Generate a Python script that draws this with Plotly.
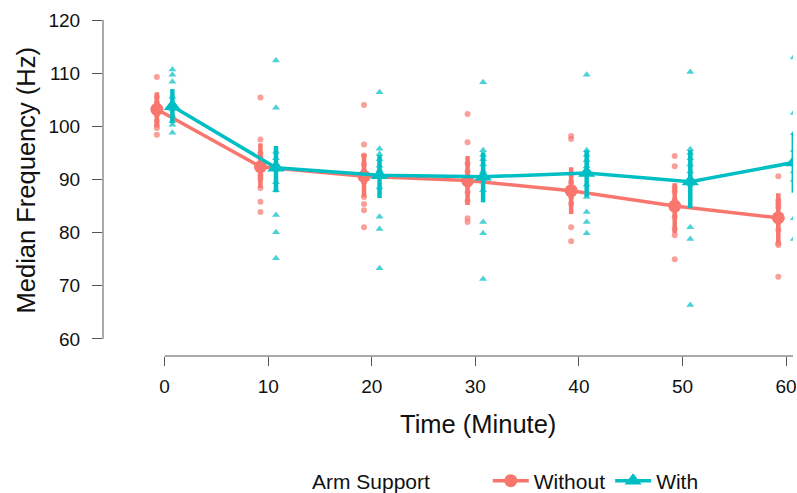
import plotly.graph_objects as go

# ---------------- data ----------------
times = [0, 10, 20, 30, 40, 50, 60]
groups = ["Without", "With"]

without_mean = [103.2, 92.4, 90.6, 89.8, 87.9, 85.0, 82.8]
without_lo = [100.0, 88.4, 86.7, 85.2, 83.5, 79.9, 78.0]
without_hi = [106.4, 96.8, 94.8, 94.4, 92.3, 89.3, 87.4]

with_mean = [103.8, 92.2, 90.8, 90.5, 91.2, 89.6, 93.2]
with_lo = [100.6, 87.6, 86.5, 85.7, 86.7, 84.6, 87.5]
with_hi = [107.0, 96.3, 94.6, 95.1, 95.5, 95.5, 98.8]

without_raw = {
    0: [109.3, 105.5, 104.5, 103.6, 102.9, 102.2, 101.0, 100.2, 99.7, 98.4],
    10: [105.4, 97.5, 95.0, 94.2, 92.6, 91.8, 90.8, 90.2, 88.4, 85.8, 83.9],
    20: [104.0, 96.6, 94.5, 92.8, 91.6, 90.6, 89.5, 86.7, 85.4, 84.2, 81.0],
    30: [102.3, 97.0, 93.0, 91.5, 90.4, 89.8, 88.8, 87.6, 86.0, 82.7, 82.0],
    40: [98.2, 97.6, 91.0, 89.5, 88.5, 87.6, 86.7, 85.5, 81.0, 78.4],
    50: [94.4, 92.5, 88.5, 87.8, 86.2, 84.5, 83.0, 80.7, 79.5, 75.0],
    60: [90.6, 86.1, 85.5, 84.8, 83.5, 82.0, 80.5, 78.0, 77.7, 71.7],
}
with_raw = {
    0: [110.7, 109.7, 108.4, 105.5, 104.2, 103.2, 102.0, 101.0, 100.3, 98.8],
    10: [112.4, 103.5, 95.2, 94.0, 93.0, 92.0, 89.5, 88.0, 83.3, 80.1, 75.2],
    20: [106.4, 95.8, 94.8, 93.8, 92.6, 91.8, 90.5, 88.5, 83.0, 80.7, 73.3],
    30: [108.3, 95.5, 94.6, 93.8, 92.8, 91.6, 90.2, 88.0, 82.0, 79.9, 71.3],
    40: [109.7, 95.5, 94.6, 93.6, 92.5, 91.0, 89.0, 86.7, 83.9, 82.0, 79.9],
    50: [110.2, 95.7, 95.0, 94.0, 92.8, 91.5, 89.0, 81.0, 78.8, 66.4],
    60: [113.0, 102.5, 98.7, 95.5, 93.5, 91.5, 89.9, 82.7, 78.8],
}

y_ticks = [60, 70, 80, 90, 100, 110, 120]
x_ticks = [0, 10, 20, 30, 40, 50, 60]

# ---------------- style ----------------
RED = "#F8766D"
TEAL = "#00BFC4"
DODGE = 0.75
FONT = "Liberation Sans, Arial, sans-serif"
AXIS_COL = "#555555"
X_RANGE = [-5.95, 60.67]
Y_RANGE = [56.8, 120]

fig = go.Figure()

specs = [
    ("Without", RED, "circle", -DODGE, without_raw, without_mean, without_lo, without_hi, 6, 13),
    ("With", TEAL, "triangle-up", DODGE, with_raw, with_mean, with_lo, with_hi, 7, 15),
]

# raw points
for name, col, sym, off, raw, mean, lo, hi, rs, ms in specs:
    xs, ys = [], []
    for t in times:
        for v in raw[t]:
            xs.append(t + off)
            ys.append(v)
    fig.add_trace(go.Scatter(
        x=xs, y=ys, mode="markers", showlegend=False, hoverinfo="skip",
        marker=dict(symbol=sym, size=rs, color=col, opacity=0.7, line=dict(width=0)),
    ))

# means with error bars
for name, col, sym, off, raw, mean, lo, hi, rs, ms in specs:
    fig.add_trace(go.Scatter(
        x=[t + off for t in times], y=mean, mode="lines+markers", name=name,
        line=dict(color=col, width=3.5),
        marker=dict(symbol=sym, size=ms, color=col, line=dict(width=0)),
        error_y=dict(type="data", symmetric=False,
                     array=[h - m for h, m in zip(hi, mean)],
                     arrayminus=[m - l for l, m in zip(lo, mean)],
                     color=col, thickness=4.5, width=0),
    ))

# capped axis lines
fig.add_shape(type="line", xref="paper", yref="y", x0=0, x1=0,
              y0=min(y_ticks), y1=max(y_ticks), line=dict(color=AXIS_COL, width=1))
fig.add_shape(type="line", xref="x", yref="paper", x0=min(x_ticks), x1=X_RANGE[1],
              y0=0, y1=0, line=dict(color=AXIS_COL, width=1))

# axis titles & legend title
fig.add_annotation(text="Median Frequency (Hz)", textangle=-90, xref="paper", yref="paper",
                   x=(26 - 103) / 694, y=1 - (180 - 20) / 336, xanchor="center", yanchor="middle",
                   showarrow=False, font=dict(family=FONT, size=25.5, color="#111111"))
fig.add_annotation(text="Time (Minute)", xref="paper", yref="paper",
                   x=(480 - 103) / 694, y=-(424 - 356) / 336, xanchor="center", yanchor="middle",
                   showarrow=False, font=dict(family=FONT, size=25.5, color="#111111"))
fig.add_annotation(text="Arm Support", xref="paper", yref="paper",
                   x=(311 - 103) / 694, y=-(481 - 356) / 336, xanchor="left", yanchor="middle",
                   showarrow=False, font=dict(family=FONT, size=21, color="#111111"))

fig.update_layout(
    width=797, height=493,
    margin=dict(l=103, r=0, t=20, b=137),
    plot_bgcolor="white", paper_bgcolor="white",
    font=dict(family=FONT, color="#111111"),
    xaxis=dict(range=X_RANGE, tickvals=x_ticks, showgrid=False, zeroline=False,
               showline=False, ticks="outside", ticklen=9, tickcolor=AXIS_COL,
               tickfont=dict(size=19, color="#111111"), ticklabelstandoff=4,
               ticklabeloverflow="allow"),
    yaxis=dict(range=Y_RANGE, tickvals=y_ticks, showgrid=False, zeroline=False,
               showline=False, ticks="outside", ticklen=10, tickcolor=AXIS_COL,
               tickfont=dict(size=19, color="#111111"), ticklabelstandoff=8),
    legend=dict(orientation="h", xref="paper", x=(490 - 103) / 694, xanchor="left",
                yref="container", y=1 - 481 / 493, yanchor="middle",
                font=dict(family=FONT, size=21, color="#111111"),
                itemwidth=36,
                bgcolor="rgba(0,0,0,0)", itemclick=False),
    showlegend=True,
)

fig.write_html(
    "out.html",
    config={"displayModeBar": False},
    post_script="document.body.style.margin='0';document.body.style.overflow='hidden';",
)
